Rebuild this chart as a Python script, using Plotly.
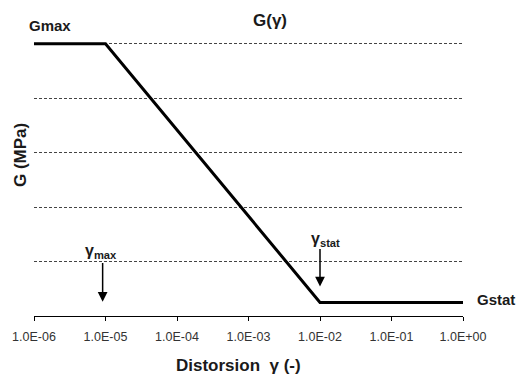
import math
import plotly.graph_objects as go

# data
gamma = [1e-6, 1e-5, 1e-2, 1e0]
G = [5.0, 5.0, 0.25, 0.25]
tick_vals = [1e-6, 1e-5, 1e-4, 1e-3, 1e-2, 1e-1, 1e0]
tick_text = ["1.0E-06", "1.0E-05", "1.0E-04", "1.0E-03", "1.0E-02", "1.0E-01", "1.0E+00"]
grid_vals = [1, 2, 3, 4, 5]
gamma_max = 10**-5.04
gamma_stat = 1e-2

FONT = "Liberation Sans, Arial, sans-serif"
TXT = "#1a1a1a"

# plot area in page pixels
PL, PR, PT, PB = 34, 463, 41, 316


def px(x):
    return (x - PL) / (PR - PL)


def py(y):
    return (PB - y) / (PB - PT)


def label(x, y, text, size, angle=0):
    return dict(x=px(x), y=py(y), xref="paper", yref="paper", text=text,
                showarrow=False, xanchor="center", yanchor="middle",
                textangle=angle, font=dict(family=FONT, size=size, color=TXT))


lx = math.log10
anns = [
    label(270, 21, "<b>G(γ)</b>", 17),
    label(50, 25, "<b>Gmax</b>", 15),
    label(496, 299, "<b>Gstat</b>", 15),
    label(101, 251, "<b>γ<sub>max</sub></b>", 16),
    label(325, 239, "<b>γ<sub>stat</sub></b>", 16),
    label(238, 365, "<b>Distorsion  γ (-)</b>", 17),
    label(20, 155, "<b>G (MPa)</b>", 17, angle=-90),
    dict(x=lx(gamma_max), y=0.26, ax=lx(gamma_max), ay=1.0,
         xref="x", yref="y", axref="x", ayref="y", text="",
         showarrow=True, arrowhead=2, arrowsize=1.3, arrowwidth=1.5,
         arrowcolor="black"),
    dict(x=lx(gamma_stat), y=0.54, ax=lx(gamma_stat), ay=1.26,
         xref="x", yref="y", axref="x", ayref="y", text="",
         showarrow=True, arrowhead=2, arrowsize=1.3, arrowwidth=1.5,
         arrowcolor="black"),
]

fig = go.Figure()
fig.add_trace(go.Scatter(x=gamma, y=G, mode="lines",
                         line=dict(color="black", width=3), showlegend=False,
                         hoverinfo="skip"))

W, H = 518, 378
fig.update_layout(
    width=W, height=H,
    margin=dict(l=PL, r=W - PR, t=PT, b=H - PB),
    paper_bgcolor="white", plot_bgcolor="white",
    annotations=anns,
    xaxis=dict(type="log", range=[-6, 0], tickvals=tick_vals, ticktext=tick_text,
               showgrid=False, zeroline=False, showline=True, linecolor="black",
               linewidth=1, ticks="outside", ticklen=4, tickcolor="black",
               tickfont=dict(family=FONT, size=12.5, color="#333"),
               ticklabelstandoff=5, automargin=False),
    yaxis=dict(range=[0, 5.05], tickvals=grid_vals, showticklabels=False,
               showgrid=True, gridcolor="#444", gridwidth=1, griddash="3px,2px",
               zeroline=False, showline=False, ticks="", automargin=False),
)

fig.write_html("out.html", config={"displayModeBar": False},
               post_script="document.body.style.margin='0';document.body.style.overflow='hidden';")
